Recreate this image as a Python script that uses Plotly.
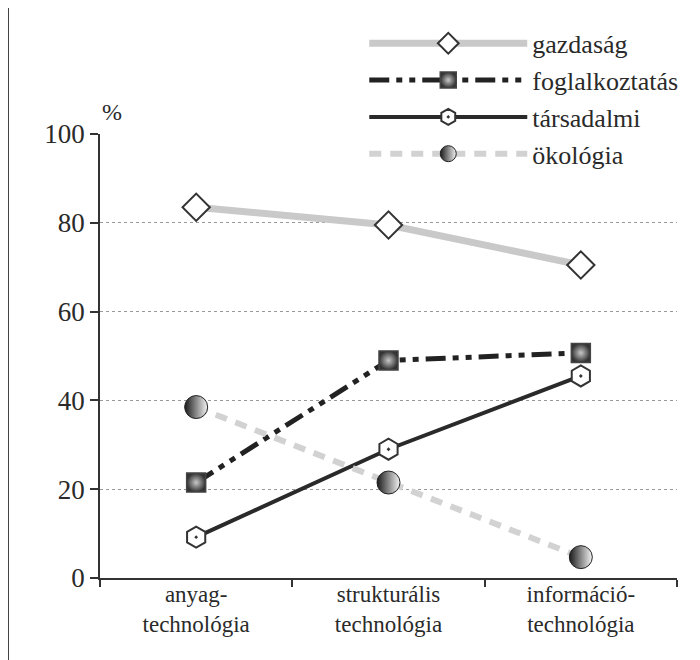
import plotly.graph_objects as go

categories = ["anyag-<br>technológia", "strukturális<br>technológia", "információ-<br>technológia"]
gazdasag = [83.5, 79.5, 70.5]
foglalkoztatas = [21.5, 49, 50.7]
tarsadalmi = [9.2, 29, 45.5]
okologia = [38.5, 21.5, 4.7]
y_ticks = [0, 20, 40, 60, 80, 100]

FONT = "Liberation Serif, Times New Roman, DejaVu Serif, serif"
fig = go.Figure()

fig.add_trace(go.Scatter(
    x=categories, y=gazdasag, name="gazdaság", mode="lines+markers",
    line=dict(color="#c9c9c9", width=7),
    marker=dict(symbol="diamond", size=21, color="white", line=dict(color="#333", width=2)),
))
fig.add_trace(go.Scatter(
    x=categories, y=foglalkoztatas, name="foglalkoztatás", mode="lines+markers",
    line=dict(color="#222", width=5, dash="20px,7px,6px,7px,6px,7px"),
    marker=dict(symbol="square", size=19, color="#333",
                gradient=dict(type="radial", color="#c8c8c8"),
                line=dict(color="#444", width=1.5)),
))
fig.add_trace(go.Scatter(
    x=categories, y=tarsadalmi, name="társadalmi", mode="lines+markers",
    line=dict(color="#2a2a2a", width=4),
    marker=dict(symbol="hexagon-dot", size=21, color="white", line=dict(color="#333", width=2)),
))
fig.add_trace(go.Scatter(
    x=categories, y=okologia, name="ökológia", mode="lines+markers",
    line=dict(color="#d2d2d2", width=6, dash="12px,9px"),
    marker=dict(symbol="circle", size=23, color="#1a1a1a",
                gradient=dict(type="horizontal", color="#f4f4f4"),
                line=dict(color="#222", width=1)),
))

fig.update_layout(
    width=692, height=652,
    margin=dict(l=92, r=23, t=126, b=82),
    paper_bgcolor="white", plot_bgcolor="white",
    font=dict(family=FONT, size=24, color="#2a2a2a"),
    showlegend=True,
    legend=dict(x=0.458, xanchor="left", y=1.257, yanchor="top",
                bgcolor="rgba(0,0,0,0)", itemwidth=158,
                font=dict(family=FONT, size=26, color="#2a2a2a"),
                tracegroupgap=0, itemclick=False),
    xaxis=dict(
        type="category", range=[-0.5, 2.5],
        showline=True, linecolor="#333", linewidth=2,
        ticks="outside", tickson="boundaries", ticklen=7, tickcolor="#333", tickwidth=1.5,
        ticklabelstandoff=-6,
        showgrid=False, tickfont=dict(family=FONT, size=23, color="#2a2a2a"),
        fixedrange=True,
    ),
    yaxis=dict(
        range=[0, 100], tickvals=y_ticks,
        showline=True, linecolor="#333", linewidth=1.5,
        ticks="outside", ticklen=8, tickcolor="#333", tickwidth=1.5,
        showgrid=True, gridcolor="#999", gridwidth=1, griddash="dot",
        zeroline=False,
        tickfont=dict(family=FONT, size=27, color="#2a2a2a"),
        fixedrange=True,
    ),
)

fig.add_annotation(text="%", xref="paper", yref="paper", x=0.0, y=1.015,
                   xanchor="left", yanchor="bottom", showarrow=False,
                   font=dict(family=FONT, size=24, color="#2a2a2a"))

fig.add_shape(type="line", xref="paper", yref="paper",
              x0=-0.159, x1=-0.159, y0=-0.2, y1=1.32,
              line=dict(color="#444", width=1.5))

fig.write_html("out.html")
